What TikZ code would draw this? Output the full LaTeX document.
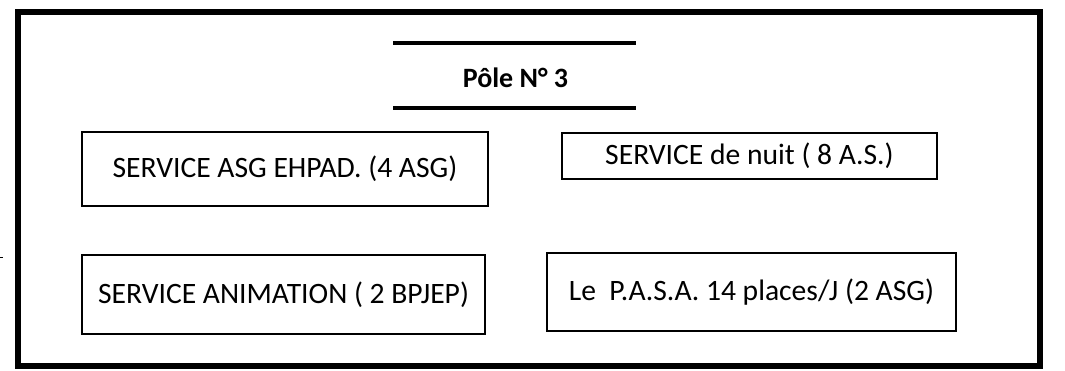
\documentclass[tikz,border=0pt]{standalone}
\usepackage{fontspec}
\setmainfont{Carlito}
\begin{document}
\begin{tikzpicture}[x=0.75pt,y=-0.75pt,
  svc/.style={draw=black,line width=1.7pt,inner sep=0pt,font=\fontsize{22.2}{26}\selectfont},
  rule/.style={line width=2.3pt},
  frame/.style={line width=4.6pt}]
\useasboundingbox (0,0) rectangle (1065,371);
\draw[frame] (18,12) rectangle (1040,366);
\coordinate (tl) at (393,43);
\coordinate (tr) at (636,43);
\coordinate (bl) at (393,108);
\coordinate (br) at (636,108);
\draw[rule] (tl) -- (tr);
\draw[rule] (bl) -- (br);
\node[font=\fontsize{21}{24}\selectfont\bfseries] (title) at (515.5,78) {Pôle N° 3};
\node[svc,minimum width=406*0.75pt,minimum height=74*0.75pt] (asg) at (285,169) {SERVICE ASG EHPAD. (4 ASG)};
\node[svc,minimum width=375*0.75pt,minimum height=46*0.75pt] (nuit) at (749.5,156) {SERVICE de nuit ( 8 A.S.)};
\node[svc,minimum width=403*0.75pt,minimum height=79*0.75pt] (anim) at (283.5,294.5) {SERVICE ANIMATION ( 2 BPJEP)};
\node[svc,minimum width=409*0.75pt,minimum height=78*0.75pt] (pasa) at (751.5,292) {Le\ \ P.A.S.A. 14 places/J (2 ASG)};
\coordinate (m1) at (0,257);
\coordinate (m2) at (3,257);
\draw[line width=0.6pt] (m1) -- (m2);
\end{tikzpicture}
\end{document}
